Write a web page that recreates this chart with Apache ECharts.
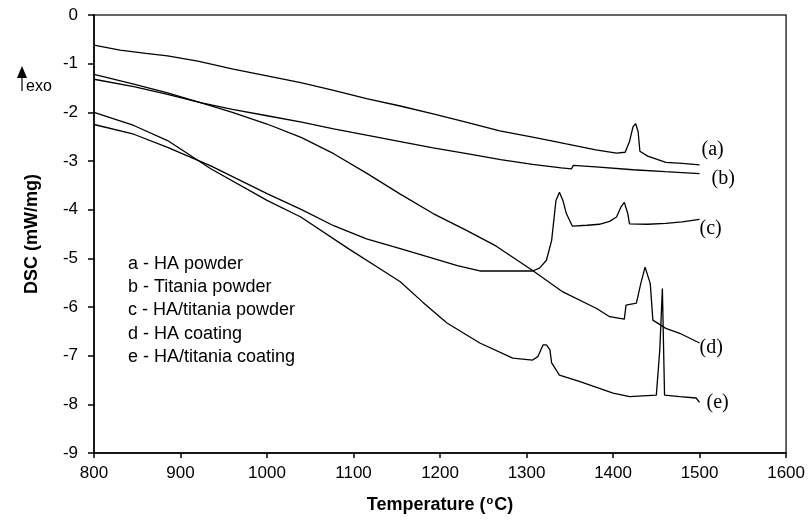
<!doctype html>
<html>
<head>
<meta charset="UTF-8">
<title>DSC curves</title>
<script src="https://cdn.jsdelivr.net/npm/echarts@6/dist/echarts.min.js"></script>
<style>
html, body { margin: 0; padding: 0; background: #fff; }
#main { width: 808px; height: 526px; }
</style>
</head>
<body>
<div id="main"></div>
<script>
// curve data: [temperature, DSC]
var curveA = [
    [800, -0.62], [830, -0.72], [860, -0.79], [885, -0.84], [920, -0.95], [961, -1.11],
    [1000, -1.25], [1039, -1.39], [1077, -1.55], [1115, -1.72], [1154, -1.87], [1192, -2.03],
    [1230, -2.2], [1269, -2.38], [1310, -2.52], [1346, -2.65], [1380, -2.77], [1404, -2.84],
    [1414, -2.82], [1419, -2.6], [1423, -2.3], [1426, -2.23], [1429, -2.4], [1431, -2.8],
    [1440, -2.9], [1461, -3.03], [1480, -3.05], [1500, -3.08]
];
var curveB = [
    [800, -1.32], [846, -1.47], [885, -1.63], [923, -1.8], [960, -1.94], [1000, -2.07],
    [1040, -2.2], [1077, -2.34], [1115, -2.47], [1154, -2.6], [1192, -2.73], [1231, -2.85],
    [1270, -2.97], [1307, -3.07], [1340, -3.14], [1352, -3.16], [1354, -3.09], [1380, -3.12],
    [1423, -3.18], [1460, -3.22], [1500, -3.26]
];
var curveC = [
    [800, -2.25], [846, -2.45], [885, -2.72], [935, -3.1], [1000, -3.67], [1040, -4.0],
    [1077, -4.33], [1115, -4.6], [1154, -4.8], [1192, -5.0], [1220, -5.15], [1246, -5.26],
    [1307, -5.26], [1315, -5.2], [1323, -5.04], [1329, -4.63], [1334, -3.81], [1338, -3.64],
    [1342, -3.81], [1346, -4.08], [1353, -4.34], [1370, -4.32], [1384, -4.3], [1396, -4.24],
    [1404, -4.15], [1409, -3.95], [1413, -3.85], [1417, -4.08], [1419, -4.29], [1440, -4.3],
    [1461, -4.28], [1480, -4.25], [1500, -4.2]
];
var curveD = [
    [800, -1.22], [846, -1.42], [885, -1.6], [923, -1.8], [960, -2.0], [1000, -2.24],
    [1040, -2.52], [1077, -2.85], [1115, -3.25], [1154, -3.68], [1192, -4.08], [1230, -4.42],
    [1265, -4.75], [1307, -5.25], [1342, -5.69], [1381, -6.03], [1396, -6.2], [1413, -6.25],
    [1415, -5.96], [1427, -5.92], [1432, -5.52], [1437, -5.18], [1443, -5.52], [1446, -6.27],
    [1461, -6.44], [1477, -6.54], [1500, -6.74]
];
var curveE = [
    [800, -2.0], [846, -2.27], [885, -2.58], [935, -3.16], [1000, -3.81], [1039, -4.15],
    [1094, -4.8], [1131, -5.22], [1154, -5.48], [1180, -5.9], [1208, -6.33], [1246, -6.74],
    [1284, -7.05], [1307, -7.09], [1313, -7.02], [1319, -6.78], [1323, -6.78], [1327, -6.88],
    [1329, -7.15], [1338, -7.4], [1361, -7.53], [1400, -7.77], [1419, -7.84], [1450, -7.81],
    [1454, -6.88], [1457, -5.62], [1459, -5.62], [1459.5, -7.81], [1477, -7.84], [1496, -7.87],
    [1500, -7.96]
];

var curveTags = ['(a)', '(b)', '(c)', '(d)', '(e)'];
var legendLines = ['a - HA powder', 'b - Titania powder', 'c - HA/titania powder', 'd - HA coating', 'e - HA/titania coating'];
var xTicks = {min: 800, max: 1600, step: 100};
var yTicks = {min: -9, max: 0, step: 1};

var myChart = echarts.init(document.getElementById('main'));

var tagOffsets = [[2, -15], [12, 5], [0, 9], [0, 5], [7, 0]];
var curves = [curveA, curveB, curveC, curveD, curveE];

var series = curves.map(function (data, i) {
    return {
        name: legendLines[i],
        type: 'line',
        data: data,
        symbol: 'none',
        lineStyle: {color: '#000', width: 1.3},
        endLabel: {
            show: true,
            formatter: curveTags[i],
            distance: 0,
            offset: tagOffsets[i],
            color: '#000',
            fontFamily: 'Liberation Serif',
            fontSize: 20
        }
    };
});

var axisFont = {color: '#000', fontFamily: 'Liberation Sans', fontSize: 17};

option = {
    animation: false,
    grid: {left: 94, right: 21, top: 15, bottom: 73, show: true, borderColor: '#333', borderWidth: 1.5},
    xAxis: {
        type: 'value',
        min: xTicks.min, max: xTicks.max, interval: xTicks.step,
        name: 'Temperature ({sup|o}C)',
        nameLocation: 'middle',
        nameGap: 42,
        nameTextStyle: {
            color: '#000', fontFamily: 'Liberation Sans', fontWeight: 'bold', fontSize: 18,
            rich: {sup: {fontFamily: 'Liberation Sans', fontWeight: 'bold', fontSize: 11, padding: [0, 1, 9, 1]}}
        },
        axisLine: {onZero: false, lineStyle: {color: '#000', width: 1.5}},
        axisTick: {inside: false, length: 5, lineStyle: {color: '#000', width: 1.5}},
        axisLabel: Object.assign({margin: 12, formatter: function (v) { return String(v); }}, axisFont),
        splitLine: {show: false}
    },
    yAxis: {
        type: 'value',
        min: yTicks.min, max: yTicks.max, interval: yTicks.step,
        name: 'DSC (mW/mg)',
        nameLocation: 'middle',
        nameGap: 53,
        nameTextStyle: {color: '#000', fontFamily: 'Liberation Sans', fontWeight: 'bold', fontSize: 18},
        axisLine: {onZero: false, lineStyle: {color: '#000', width: 1.5}},
        axisTick: {inside: false, length: 6, lineStyle: {color: '#000', width: 1.5}},
        axisLabel: Object.assign({margin: 16, formatter: function (v) { return String(v); }}, axisFont),
        splitLine: {show: false}
    },
    graphic: [
        {
            type: 'text', left: 128, top: 252,
            style: {
                text: legendLines.join('\n'),
                fill: '#000', fontFamily: 'Liberation Sans', fontSize: 18, lineHeight: 23.4
            }
        },
        // exo arrow
        {type: 'polygon', shape: {points: [[22, 66], [17, 78], [27, 78]]}, style: {fill: '#000'}},
        {type: 'line', shape: {x1: 22, y1: 77, x2: 22, y2: 91}, style: {stroke: '#000', lineWidth: 1.2}},
        {type: 'text', left: 26, top: 79, style: {text: 'exo', fill: '#000', fontFamily: 'Liberation Sans', fontSize: 16}}
    ],
    series: series
};

myChart.setOption(option);
</script>
</body>
</html>
